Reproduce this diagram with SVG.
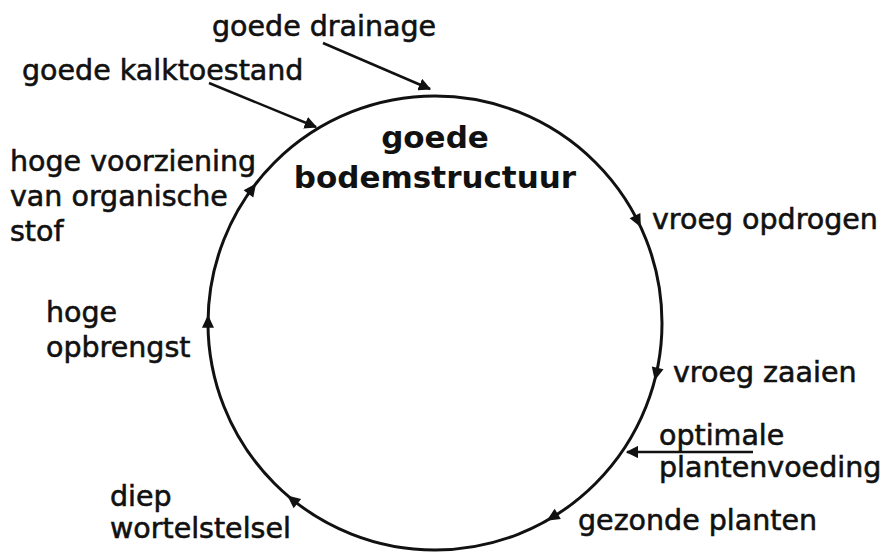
<svg xmlns="http://www.w3.org/2000/svg" width="883" height="552" viewBox="0 0 883 552">
<style>
.t{font-family:"DejaVu Sans","Verdana",sans-serif;font-size:28.5px;fill:#111;stroke:#111;stroke-width:0.6}
.h{font-family:"DejaVu Sans","Verdana",sans-serif;font-size:31px;font-weight:bold;fill:#111}
.c{fill:none;stroke:#111;stroke-width:3}
.l{fill:none;stroke:#111;stroke-width:2.5}
.a{fill:#111}
</style>
<defs>
<path id="ah" d="M7,0 L-6,-6 L-6,6 Z"/>
<marker id="m" viewBox="0 0 10 10" refX="9" refY="5" markerWidth="5" markerHeight="5" orient="auto" markerUnits="strokeWidth">
<path d="M0,0 L10,5 L0,10 Z" fill="#111"/>
</marker>
</defs>
<rect width="883" height="552" fill="#fff"/>
<g id="cycle">
<circle class="c" cx="435" cy="323" r="227"/>
</g>
<g id="connectors">
<line class="l" x1="323" y1="43" x2="430" y2="89" marker-end="url(#m)"/>
<line class="l" x1="209" y1="83" x2="316" y2="127" marker-end="url(#m)"/>
<line class="l" x1="753" y1="452" x2="627" y2="452" marker-end="url(#m)"/>
<use href="#ah" class="a" transform="translate(252,189) rotate(-53.8)"/>
<use href="#ah" class="a" transform="translate(637.7,221) rotate(63.3)"/>
<use href="#ah" class="a" transform="translate(656.3,373.7) rotate(102.9)"/>
<use href="#ah" class="a" transform="translate(552.6,517.1) rotate(148.8)"/>
<use href="#ah" class="a" transform="translate(292.7,499.8) rotate(218.8)"/>
<use href="#ah" class="a" transform="translate(208,321.8) rotate(270.3)"/>
</g>
<g id="title"><text class="h" x="435" y="148" text-anchor="middle">goede</text><text class="h" x="435" y="188" text-anchor="middle">bodemstructuur</text></g>
<g id="drainage"><text class="t" x="212" y="36">goede drainage</text></g>
<g id="kalk"><text class="t" x="22" y="80">goede kalktoestand</text></g>
<g id="organisch"><text class="t" x="10" y="171">hoge voorziening</text><text class="t" x="10" y="206">van organische</text><text class="t" x="10" y="241">stof</text></g>
<g id="opdrogen"><text class="t" x="652" y="229">vroeg opdrogen</text></g>
<g id="opbrengst"><text class="t" x="46" y="322">hoge</text><text class="t" x="46" y="357">opbrengst</text></g>
<g id="zaaien"><text class="t" x="673" y="382">vroeg zaaien</text></g>
<g id="voeding"><text class="t" x="659" y="445">optimale</text><text class="t" x="659" y="477">plantenvoeding</text></g>
<g id="gezond"><text class="t" x="578" y="530">gezonde planten</text></g>
<g id="wortel"><text class="t" x="110" y="506">diep</text><text class="t" x="110" y="538">wortelstelsel</text></g>
</svg>
